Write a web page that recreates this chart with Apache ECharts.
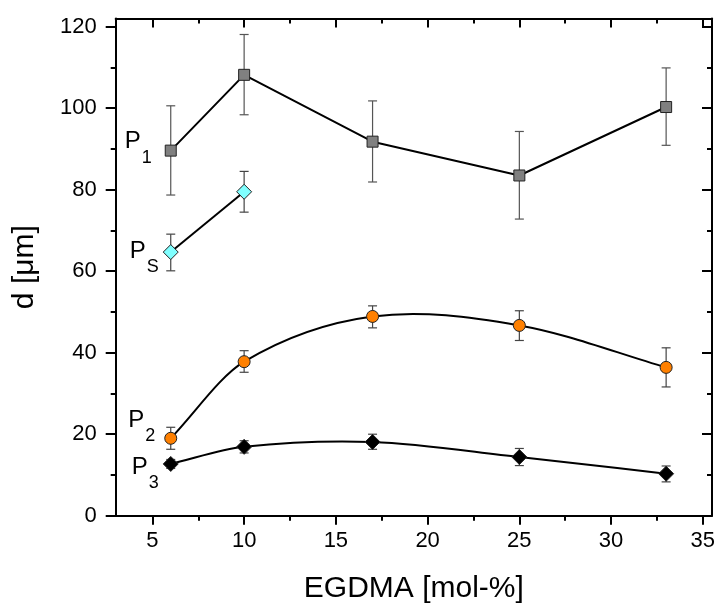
<!DOCTYPE html>
<html><head><meta charset="utf-8">
<script src="https://cdn.jsdelivr.net/npm/echarts@6/dist/echarts.min.js"></script>
<style>html,body{margin:0;padding:0;background:#fff}#c{width:717px;height:607px}</style>
</head><body><div id="c"></div>
<script>
// ---- data ----
const xTicks = [5, 10, 15, 20, 25, 30, 35];
const yTicks = [0, 20, 40, 60, 80, 100, 120];
const xP = [6, 10, 17, 25, 33];
const xPS = [6, 10];
const P1 = [89.6, 108.2, 91.8, 83.5, 100.3];
const P1lo = [78.7, 98.4, 81.9, 72.8, 90.9];
const P1hi = [100.6, 118.1, 101.8, 94.3, 109.9];
const PS = [64.7, 79.5];
const PSlo = [60.1, 74.5];
const PShi = [69.1, 84.5];
const P2 = [19.0, 37.8, 48.9, 46.7, 36.4];
const P2lo = [16.3, 35.2, 46.1, 43.0, 31.6];
const P2hi = [21.7, 40.5, 51.5, 50.3, 41.2];
const P3 = [12.7, 16.9, 18.1, 14.4, 10.3];
const P3lo = [11.6, 15.4, 16.3, 12.3, 8.3];
const P3hi = [13.8, 18.4, 20.0, 16.5, 12.2];
const seriesNames = ['P1', 'PS', 'P2', 'P3'];
const subs = ['1', 'S', '2', '3'];

const FONT = '"Liberation Sans", Arial, sans-serif';
const chart = echarts.init(document.getElementById('c'), null, {renderer: 'canvas'});

function errSeries(xs, lo, hi, color) {
  return {
    type: 'custom', z: 1, silent: true,
    data: xs.map((x, i) => [x, lo[i], hi[i]]),
    encode: {x: 0, y: [1, 2]},
    renderItem: function (params, api) {
      const x = api.value(0);
      const a = api.coord([x, api.value(1)]);
      const b = api.coord([x, api.value(2)]);
      const w = 4.5;
      const st = {stroke: color, lineWidth: 1.2, fill: 'none'};
      return {type: 'group', children: [
        {type: 'line', shape: {x1: a[0], y1: a[1], x2: b[0], y2: b[1]}, style: st},
        {type: 'line', shape: {x1: a[0] - w, y1: a[1], x2: a[0] + w, y2: a[1]}, style: st},
        {type: 'line', shape: {x1: b[0] - w, y1: b[1], x2: b[0] + w, y2: b[1]}, style: st}
      ]};
    }
  };
}

// smooth (cubic Hermite) curve through the data points, drawn via the axis scales
function curveSeries(xs, ys) {
  return {
    type: 'custom', z: 2, silent: true,
    data: [[xs[0], ys[0]]],
    encode: {x: 0, y: 1},
    renderItem: function (params, api) {
      const n = xs.length, m = [];
      for (let i = 0; i < n; i++) {
        if (i === 0) m.push((ys[1] - ys[0]) / (xs[1] - xs[0]));
        else if (i === n - 1) m.push((ys[n - 1] - ys[n - 2]) / (xs[n - 1] - xs[n - 2]));
        else m.push((ys[i + 1] - ys[i - 1]) / (xs[i + 1] - xs[i - 1]));
      }
      const children = [];
      for (let i = 0; i < n - 1; i++) {
        const h = xs[i + 1] - xs[i];
        const p0 = api.coord([xs[i], ys[i]]);
        const c1 = api.coord([xs[i] + h / 3, ys[i] + m[i] * h / 3]);
        const c2 = api.coord([xs[i + 1] - h / 3, ys[i + 1] - m[i + 1] * h / 3]);
        const p1 = api.coord([xs[i + 1], ys[i + 1]]);
        children.push({type: 'bezierCurve',
          shape: {x1: p0[0], y1: p0[1], x2: p1[0], y2: p1[1], cpx1: c1[0], cpy1: c1[1], cpx2: c2[0], cpy2: c2[1]},
          style: {stroke: '#000', lineWidth: 2, fill: 'none'}});
      }
      return {type: 'group', children: children};
    }
  };
}

function rich() {
  return {
    p: {fontSize: 24, lineHeight: 24, fontFamily: FONT, color: '#000', padding: [0, 0, 16, 0]},
    s: {fontSize: 18, lineHeight: 18, fontFamily: FONT, color: '#000', padding: [16, 0, 0, 1]}
  };
}

function lineSeries(xs, ys, idx, symbol, size, fill, showLine, dist, offY) {
  return {
    type: 'line', name: seriesNames[idx], z: 3, smooth: false,
    symbol: symbol, symbolSize: size, showAllSymbol: true,
    lineStyle: {color: '#000', width: 2, opacity: showLine ? 1 : 0},
    itemStyle: {color: fill, borderColor: '#222', borderWidth: 1},
    data: xs.map((x, i) => i === 0 ? {
      value: [x, ys[i]],
      label: {show: true, position: 'left', distance: dist, offset: [0, offY],
        formatter: '{p|P}{s|' + subs[idx] + '}', rich: rich()}
    } : [x, ys[i]])
  };
}

const axisCommonX = {
  type: 'value', min: 3, max: 35.5, splitNumber: 7,
  axisLine: {show: true, onZero: false, lineStyle: {color: '#000', width: 2}},
  splitLine: {show: false},
  minorTick: {show: true, splitNumber: 2, length: 5, lineStyle: {color: '#000', width: 2}},
};
const axisCommonY = {
  type: 'value', min: 0, max: 122, splitNumber: 6,
  axisLine: {show: true, onZero: false, lineStyle: {color: '#000', width: 2}},
  splitLine: {show: false},
  minorTick: {show: true, splitNumber: 2, length: 5, lineStyle: {color: '#000', width: 2}},
};

chart.setOption({
  animation: false,
  backgroundColor: '#fff',
  grid: {left: 115.7, right: 5, top: 18.6, bottom: 91.3, containLabel: false, outerBoundsMode: 'none'},
  xAxis: [
    Object.assign({}, axisCommonX, {
      position: 'bottom',
      axisTick: {show: true, customValues: xTicks, length: 9, lineStyle: {color: '#000', width: 2}},
      axisLabel: {show: true, customValues: xTicks, fontSize: 22, color: '#000', fontFamily: FONT, margin: 14},
      name: 'EGDMA [mol-%]', nameLocation: 'middle', nameGap: 58,
      nameTextStyle: {fontSize: 30, color: '#000', fontFamily: FONT}
    }),
    Object.assign({}, axisCommonX, {
      position: 'top',
      axisTick: {show: true, inside: true, customValues: xTicks, length: 9, lineStyle: {color: '#000', width: 2}},
      axisLabel: {show: false}
    })
  ],
  yAxis: [
    Object.assign({}, axisCommonY, {
      position: 'left',
      axisTick: {show: true, customValues: yTicks, length: 10, lineStyle: {color: '#000', width: 2}},
      axisLabel: {show: true, customValues: yTicks, fontSize: 22, color: '#000', fontFamily: FONT, margin: 19},
      name: 'd [\u03bcm]', nameLocation: 'middle', nameGap: 76, nameRotate: 90,
      nameTextStyle: {fontSize: 30, color: '#000', fontFamily: FONT}
    }),
    Object.assign({}, axisCommonY, {
      position: 'right',
      axisTick: {show: true, inside: true, customValues: yTicks, length: 10, lineStyle: {color: '#000', width: 2}},
      axisLabel: {show: false}
    })
  ],
  series: [
    errSeries(xP, P1lo, P1hi, '#555'),
    errSeries(xPS, PSlo, PShi, '#444'),
    errSeries(xP, P2lo, P2hi, '#444'),
    errSeries(xP, P3lo, P3hi, '#444'),
    curveSeries(xP, P2),
    curveSeries(xP, P3),
    lineSeries(xP, P1, 0, 'rect', 11, '#808080', true, 13, -1),
    lineSeries(xPS, PS, 1, 'diamond', 15, '#80ffff', true, 4, 7),
    lineSeries(xP, P2, 2, 'circle', 12, '#ff8000', false, 9, -10),
    lineSeries(xP, P3, 3, 'diamond', 15, '#000000', false, 4, 11)
  ]
});
</script></body></html>
